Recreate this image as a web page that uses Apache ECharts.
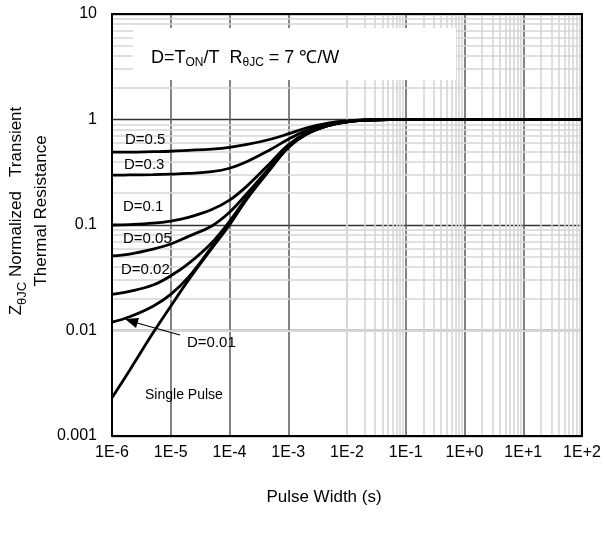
<!DOCTYPE html>
<html>
<head>
<meta charset="utf-8">
<script src="https://cdn.jsdelivr.net/npm/echarts@6/dist/echarts.min.js"></script>
<style>
  html, body { margin: 0; padding: 0; background: #fff; }
  #chart { width: 605px; height: 533px; }
</style>
</head>
<body>
<div id="chart"></div>
<script>
// pulse width (s) where the curves were read
var pulseWidth = [1e-6, 2e-6, 5e-6, 1e-5, 2e-5, 5e-5, 1e-4, 2e-4, 5e-4, 1e-3, 2e-3, 5e-3, 1e-2, 2e-2, 5e-2, 1e-1, 1, 10, 100];

// normalized transient thermal resistance, one array per duty cycle
var zD05 = [0.49, 0.49, 0.495, 0.50, 0.51, 0.525, 0.545, 0.58, 0.65, 0.73, 0.83, 0.93, 0.97, 0.99, 1, 1, 1, 1, 1];
var zD03 = [0.297, 0.298, 0.30, 0.303, 0.308, 0.32, 0.345, 0.40, 0.52, 0.65, 0.78, 0.91, 0.965, 0.99, 1, 1, 1, 1, 1];
var zD01 = [0.10, 0.101, 0.104, 0.109, 0.118, 0.14, 0.172, 0.235, 0.39, 0.575, 0.74, 0.89, 0.955, 0.987, 1, 1, 1, 1, 1];
var zD005 = [0.051, 0.053, 0.059, 0.066, 0.078, 0.098, 0.132, 0.2, 0.36, 0.56, 0.73, 0.885, 0.952, 0.986, 1, 1, 1, 1, 1];
var zD002 = [0.022, 0.0235, 0.027, 0.033, 0.043, 0.068, 0.108, 0.185, 0.35, 0.55, 0.725, 0.882, 0.951, 0.986, 1, 1, 1, 1, 1];
var zD001 = [0.012, 0.0135, 0.017, 0.022, 0.032, 0.062, 0.103, 0.181, 0.345, 0.545, 0.722, 0.881, 0.95, 0.985, 1, 1, 1, 1, 1];
var zSingle = [0.0023, 0.0042, 0.0095, 0.017, 0.030, 0.060, 0.100, 0.178, 0.34, 0.54, 0.72, 0.88, 0.95, 0.985, 1, 1, 1, 1, 1];

// tick labels
var xTickLabels = ['1E-6', '1E-5', '1E-4', '1E-3', '1E-2', '1E-1', '1E+0', '1E+1', '1E+2'];
var yTickLabels = ['0.001', '0.01', '0.1', '1', '10'];

var FONT = "'Liberation Sans', Arial, sans-serif";

// light minor grid at 2..9 of each decade
var minorX = [], minorY = [];
for (var e = -6; e < 2; e++) {
    for (var k = 2; k <= 9; k++) minorX.push({ xAxis: k * Math.pow(10, e) });
}
for (var e2 = -3; e2 < 1; e2++) {
    for (var k2 = 2; k2 <= 9; k2++) minorY.push({ yAxis: k2 * Math.pow(10, e2) });
}

function pairs(ys) {
    return pulseWidth.map(function (x, i) { return [x, ys[i]]; });
}

function curve(name, ys) {
    return {
        name: name,
        type: 'line',
        data: pairs(ys),
        smooth: 0.4,
        showSymbol: false,
        z: 5,
        lineStyle: { color: '#000', width: 2.8 },
        animation: false,
        silent: true
    };
}

var myChart = echarts.init(document.getElementById('chart'));

var option = {
    animation: false,
    grid: { left: 112, right: 23, top: 14, bottom: 97 },
    xAxis: {
        type: 'log',
        logBase: 10,
        min: 1e-6,
        max: 100,
        splitNumber: 8,
        z: 2,
        axisLine: { show: true, lineStyle: { color: '#000', width: 2 } },
        axisTick: { show: false },
        axisLabel: {
            margin: 9,
            color: '#000',
            fontSize: 16,
            fontFamily: FONT,
            formatter: function (v) {
                return xTickLabels[Math.round(Math.log10(v)) + 6];
            }
        },
        splitLine: { show: true, lineStyle: { color: '#5a5a5a', width: 1.5 } }
    },
    yAxis: {
        type: 'log',
        logBase: 10,
        min: 0.001,
        max: 10,
        splitNumber: 4,
        z: 0,
        axisLine: { show: true, lineStyle: { color: '#000', width: 2 } },
        axisTick: { show: false },
        axisLabel: {
            margin: 15,
            color: '#000',
            fontSize: 16,
            fontFamily: FONT,
            formatter: function (v) {
                return yTickLabels[Math.round(Math.log10(v)) + 3];
            }
        },
        splitLine: { show: true, lineStyle: { color: '#333', width: 1.3 } }
    },
    series: [
        {
            type: 'line',
            data: [],
            z: 1,
            silent: true,
            markLine: {
                silent: true,
                symbol: ['none', 'none'],
                label: { show: false },
                lineStyle: { color: '#d6d6d6', width: 1.6, type: 'solid' },
                emphasis: { disabled: true },
                animation: false,
                data: minorX.concat(minorY)
            }
        },
        curve('D=0.5', zD05),
        curve('D=0.3', zD03),
        curve('D=0.1', zD01),
        curve('D=0.05', zD005),
        curve('D=0.02', zD002),
        curve('D=0.01', zD001),
        curve('Single Pulse', zSingle)
    ],
    graphic: [
        // plot frame
        { type: 'rect', z: 20, shape: { x: 112, y: 14, width: 470, height: 422 },
          style: { fill: 'none', stroke: '#000', lineWidth: 2 } },
        // white note box
        { type: 'rect', z: 10, shape: { x: 133, y: 28, width: 323, height: 52 },
          style: { fill: '#fff' } },
        { type: 'text', z: 11, left: 151, top: 49,
          style: {
              text: '{n|D=T}{s|ON}{n|/T  R}{s|θJC}{n| = 7 ℃/W}',
              rich: {
                  n: { fontSize: 18, fontFamily: FONT, fill: '#000', lineHeight: 22 },
                  s: { fontSize: 12, fontFamily: FONT, fill: '#000', lineHeight: 10, verticalAlign: 'bottom' }
              }
          } },
        // curve labels
        { type: 'text', z: 11, x: 125, y: 140, style: { text: 'D=0.5', font: '15px ' + FONT, fill: '#000', textVerticalAlign: 'middle' } },
        { type: 'text', z: 11, x: 124, y: 165, style: { text: 'D=0.3', font: '15px ' + FONT, fill: '#000', textVerticalAlign: 'middle' } },
        { type: 'text', z: 11, x: 123, y: 207, style: { text: 'D=0.1', font: '15px ' + FONT, fill: '#000', textVerticalAlign: 'middle' } },
        { type: 'text', z: 11, x: 123, y: 239, style: { text: 'D=0.05', font: '15px ' + FONT, fill: '#000', textVerticalAlign: 'middle' } },
        { type: 'text', z: 11, x: 121, y: 270, style: { text: 'D=0.02', font: '15px ' + FONT, fill: '#000', textVerticalAlign: 'middle' } },
        { type: 'text', z: 11, x: 187, y: 343, style: { text: 'D=0.01', font: '15px ' + FONT, fill: '#000', textVerticalAlign: 'middle' } },
        { type: 'text', z: 11, x: 145, y: 395, style: { text: 'Single Pulse', font: '14px ' + FONT, fill: '#000', textVerticalAlign: 'middle' } },
        // arrow pointing at D=0.01
        { type: 'line', z: 11, shape: { x1: 180, y1: 335, x2: 137, y2: 323 },
          style: { stroke: '#000', lineWidth: 1.2 } },
        { type: 'polygon', z: 11, shape: { points: [[125, 319], [139, 318], [136, 328]] },
          style: { fill: '#000' } },
        // axis titles
        { type: 'text', z: 11, x: 29, y: 211, rotation: Math.PI / 2,
          style: {
              text: '{n|Z}{s|θJC}{n| Normalized   Transient}\n{n|Thermal Resistance}',
              align: 'center',
              verticalAlign: 'middle',
              rich: {
                  n: { fontSize: 17, fontFamily: FONT, fill: '#000', lineHeight: 25 },
                  s: { fontSize: 13, fontFamily: FONT, fill: '#000', lineHeight: 12, verticalAlign: 'bottom' }
              }
          } },
        { type: 'text', z: 11, x: 324, y: 497,
          style: { text: 'Pulse Width (s)', font: '17px ' + FONT, fill: '#000', align: 'center', verticalAlign: 'middle' } }
    ]
};

myChart.setOption(option);
</script>
</body>
</html>
